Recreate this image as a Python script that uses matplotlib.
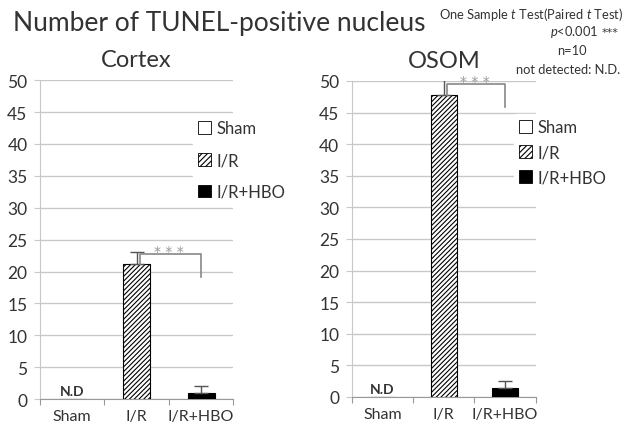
import matplotlib
matplotlib.use("Agg")
import matplotlib.pyplot as plt
from matplotlib.patches import Patch

plt.rcParams["font.family"] = ["Lato", "DejaVu Sans"]
plt.rcParams["mathtext.fontset"] = "custom"
plt.rcParams["mathtext.it"] = "Lato:italic"
plt.rcParams["mathtext.rm"] = "Lato"
plt.rcParams["hatch.linewidth"] = 0.8

categories = ["Sham", "I/R", "I/R+HBO"]
cortex_mean = [0, 21.2, 1.0]
cortex_err = [0, 1.9, 1.0]
osom_mean = [0, 47.8, 1.4]
osom_err = [0, 2.8, 1.1]
yticks = [0, 5, 10, 15, 20, 25, 30, 35, 40, 45, 50]

# bracket: (y top, y at right end)
cortex_bracket = (22.7, 19.1)
osom_bracket = (49.5, 45.9)

GRID = "#c8c8c8"
TXT = "#333333"


def draw_panel(ax, title, means, errs, bracket, legend_xy, spacing):
    xs = [0.5, 1.5, 2.5]
    faces = ["white", "white", "black"]
    hatches = [None, "///////", None]
    for x, m, fc, h in zip(xs, means, faces, hatches):
        ax.bar(x, m, width=0.42, color=fc, edgecolor="black", hatch=h,
               linewidth=0.8, zorder=3)
    for x, m, e in zip(xs[1:], means[1:], errs[1:]):
        ax.errorbar(x, m, yerr=[[0], [e]], fmt="none", ecolor="#555555",
                    elinewidth=1, capsize=5, capthick=1, zorder=4)
    ax.text(0.5, 0.3, "N.D", ha="center", va="bottom", fontsize=10,
            color=TXT, fontweight="bold")

    top, right = bracket
    ax.plot([1.55, 1.55, 2.5, 2.5], [means[1], top, top, right],
            color="#888888", lw=1.2, zorder=5, clip_on=False)
    ax.text(2.0, top - 0.6, "* * *", ha="center", va="bottom", fontsize=10,
            color="#999999", zorder=5, family="DejaVu Sans")

    ax.set_xlim(0, 3)
    ax.set_ylim(0, 50)
    ax.set_yticks(yticks)
    ax.set_xticks([0, 1, 2, 3])
    ax.set_xticklabels([])
    ax.set_xticks(xs, minor=True)
    ax.set_xticklabels(categories, minor=True)
    ax.tick_params(axis="x", which="minor", length=0, pad=7,
                   labelsize=11.5, colors=TXT)
    ax.tick_params(axis="x", which="major", length=4, color="#999999",
                   direction="out")
    ax.tick_params(axis="y", length=4, color=GRID, labelsize=12.5,
                   colors=TXT, pad=5)
    ax.grid(axis="y", color=GRID, lw=1, zorder=0)
    for s in ["top", "right"]:
        ax.spines[s].set_visible(False)
    ax.spines["left"].set_color(GRID)
    ax.spines["bottom"].set_color("#999999")
    ax.set_title(title, fontsize=17, color=TXT, pad=10)

    handles = [
        Patch(facecolor="white", edgecolor="black", lw=0.6),
        Patch(facecolor="white", edgecolor="black", hatch="//////", lw=0.6),
        Patch(facecolor="black", edgecolor="black", lw=0.6),
    ]
    leg = ax.legend(handles, categories, loc="upper left",
                    bbox_to_anchor=legend_xy, frameon=True, fontsize=12,
                    handlelength=0.8, handleheight=0.8, handletextpad=0.3,
                    labelspacing=spacing, borderaxespad=0, borderpad=0.3,
                    facecolor="white", edgecolor="white", framealpha=1)
    for t in leg.get_texts():
        t.set_color(TXT)
    leg.set_zorder(6)


fig = plt.figure(figsize=(6.34, 4.27), dpi=100)
ax1 = fig.add_axes([0.063, 0.063, 0.305, 0.747])
ax2 = fig.add_axes([0.555, 0.068, 0.29, 0.740])

draw_panel(ax1, "Cortex", cortex_mean, cortex_err, cortex_bracket, (0.79, 0.89), 0.95)
draw_panel(ax2, "OSOM", osom_mean, osom_err, osom_bracket, (0.88, 0.895), 0.55)

fig.text(0.02, 0.945, "Number of TUNEL-positive nucleus", fontsize=19,
         color=TXT, va="center", ha="left")
fig.text(0.983, 0.965, "One Sample $\\it{t}$ Test(Paired $\\it{t}$ Test)",
         fontsize=9.3, color=TXT, ha="right", va="center")
fig.text(0.975, 0.922, "***", fontsize=8, color=TXT, ha="right",
         va="center", family="DejaVu Sans")
fig.text(0.944, 0.925, "$\\it{p}$<0.001", fontsize=9.3, color=TXT,
         ha="right", va="center")
fig.text(0.902, 0.881, "n=10", fontsize=9.3, color=TXT, ha="center",
         va="center")
fig.text(0.978, 0.836, "not detected: N.D.", fontsize=9.3, color=TXT,
         ha="right", va="center")

fig.savefig("out.png", dpi=100)
